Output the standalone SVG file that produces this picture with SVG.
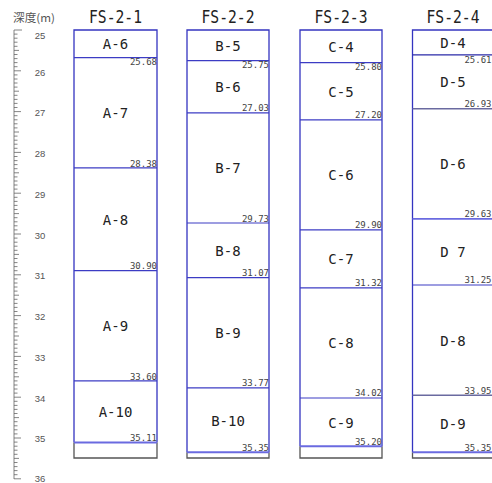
<svg xmlns="http://www.w3.org/2000/svg" width="492" height="483" viewBox="0 0 492 483">
<style>
.title{font-family:"DejaVu Sans Mono","Liberation Mono",monospace;font-size:17px;fill:#222;text-anchor:middle}
.lbl{font-family:"DejaVu Sans Mono","Liberation Mono",monospace;font-size:14px;fill:#222;text-anchor:middle}
.dep{font-family:"DejaVu Sans Mono","Liberation Mono",monospace;font-size:9px;fill:#444;text-anchor:end}
.rl{font-family:"Liberation Sans",Arial,sans-serif;font-size:9.5px;fill:#555;text-anchor:middle}
.hd{font-family:"Noto Sans CJK JP","Noto Sans CJK SC",sans-serif;font-size:11px;fill:#555}
.side{stroke:#3434c0;stroke-width:1.3;fill:none}
.bnd{stroke:#3c3cc4;stroke-width:1.2;fill:none}
.last{stroke:#6a6ae0;stroke-width:2;fill:none}
.base{stroke:#555;stroke-width:1.3;fill:none}
.tick{stroke:#666;stroke-width:0.8}
</style>
<rect width="492" height="483" fill="#fff"/>

<g id="ruler">
<text class="hd" x="13" y="22" textLength="42" lengthAdjust="spacingAndGlyphs">深度(m)</text>
<line x1="14" y1="30" x2="14" y2="479" class="tick"/>
<g id="ticks" class="tick">
<path d="M14 30h8M14 34.1h3.5M14 38.2h3.5M14 42.2h3.5M14 46.3h3.5M14 50.4h5M14 54.5h3.5M14 58.6h3.5M14 62.6h3.5M14 66.7h3.5M14 70.8h7M14 74.9h3.5M14 79h3.5M14 83h3.5M14 87.1h3.5M14 91.2h5M14 95.3h3.5M14 99.4h3.5M14 103.4h3.5M14 107.5h3.5M14 111.6h7M14 115.7h3.5M14 119.8h3.5M14 123.8h3.5M14 127.9h3.5M14 132h5M14 136.1h3.5M14 140.2h3.5M14 144.2h3.5M14 148.3h3.5M14 152.4h7M14 156.5h3.5M14 160.6h3.5M14 164.6h3.5M14 168.7h3.5M14 172.8h5M14 176.9h3.5M14 181h3.5M14 185h3.5M14 189.1h3.5M14 193.2h7M14 197.3h3.5M14 201.4h3.5M14 205.4h3.5M14 209.5h3.5M14 213.6h5M14 217.7h3.5M14 221.8h3.5M14 225.8h3.5M14 229.9h3.5M14 234h7M14 238.1h3.5M14 242.2h3.5M14 246.2h3.5M14 250.3h3.5M14 254.4h5M14 258.5h3.5M14 262.6h3.5M14 266.6h3.5M14 270.7h3.5M14 274.8h7M14 278.9h3.5M14 283h3.5M14 287h3.5M14 291.1h3.5M14 295.2h5M14 299.3h3.5M14 303.4h3.5M14 307.4h3.5M14 311.5h3.5M14 315.6h7M14 319.7h3.5M14 323.8h3.5M14 327.8h3.5M14 331.9h3.5M14 336h5M14 340.1h3.5M14 344.2h3.5M14 348.2h3.5M14 352.3h3.5M14 356.4h7M14 360.5h3.5M14 364.6h3.5M14 368.6h3.5M14 372.7h3.5M14 376.8h5M14 380.9h3.5M14 385h3.5M14 389h3.5M14 393.1h3.5M14 397.2h7M14 401.3h3.5M14 405.4h3.5M14 409.4h3.5M14 413.5h3.5M14 417.6h5M14 421.7h3.5M14 425.8h3.5M14 429.8h3.5M14 433.9h3.5M14 438h7M14 442.1h3.5M14 446.2h3.5M14 450.2h3.5M14 454.3h3.5M14 458.4h5M14 462.5h3.5M14 466.6h3.5M14 470.6h3.5M14 474.7h3.5M14 478.8h7"/>
</g>
<text class="rl" x="40" y="39">25</text>
<text class="rl" x="40" y="75.5">26</text>
<text class="rl" x="40" y="116">27</text>
<text class="rl" x="40" y="157">28</text>
<text class="rl" x="40" y="198">29</text>
<text class="rl" x="40" y="238.5">30</text>
<text class="rl" x="40" y="279">31</text>
<text class="rl" x="40" y="320">32</text>
<text class="rl" x="40" y="361">33</text>
<text class="rl" x="40" y="401.5">34</text>
<text class="rl" x="40" y="442">35</text>
<text class="rl" x="40" y="482">36</text>
</g>

<g id="FS-2-1">
<text class="title" x="115.5" y="23" textLength="53" lengthAdjust="spacingAndGlyphs">FS-2-1</text>
<path class="side" d="M74 442.5V30H157V442.5"/>
<path class="base" d="M74 442.5V458H157V442.5"/>
<g id="A-6"><text class="lbl" x="115.5" y="49">A-6</text><line class="bnd" x1="74" y1="57.7" x2="157" y2="57.7"/><text class="dep" x="157" y="65">25.68</text></g>
<g id="A-7"><text class="lbl" x="115.5" y="118">A-7</text><line class="bnd" x1="74" y1="167.9" x2="157" y2="167.9"/><text class="dep" x="157" y="166.5">28.38</text></g>
<g id="A-8"><text class="lbl" x="115.5" y="224.5">A-8</text><line class="bnd" x1="74" y1="270.7" x2="157" y2="270.7"/><text class="dep" x="157" y="269">30.90</text></g>
<g id="A-9"><text class="lbl" x="115.5" y="331">A-9</text><line class="bnd" x1="74" y1="380.9" x2="157" y2="380.9"/><text class="dep" x="157" y="379.5">33.60</text></g>
<g id="A-10"><text class="lbl" x="115.5" y="417">A-10</text><line class="last" x1="74" y1="442.5" x2="157" y2="442.5"/><text class="dep" x="157" y="440.5">35.11</text></g>
</g>

<g id="FS-2-2">
<text class="title" x="228" y="23" textLength="53" lengthAdjust="spacingAndGlyphs">FS-2-2</text>
<path class="side" d="M187 452.3V30H269V452.3"/>
<path class="base" d="M187 452.3V458H269V452.3"/>
<g id="B-5"><text class="lbl" x="228" y="50.5">B-5</text><line class="bnd" x1="187" y1="60.6" x2="269" y2="60.6"/><text class="dep" x="269" y="68">25.75</text></g>
<g id="B-6"><text class="lbl" x="228" y="92">B-6</text><line class="bnd" x1="187" y1="112.8" x2="269" y2="112.8"/><text class="dep" x="269" y="111">27.03</text></g>
<g id="B-7"><text class="lbl" x="228" y="173">B-7</text><line class="bnd" x1="187" y1="223" x2="269" y2="223"/><text class="dep" x="269" y="221.5">29.73</text></g>
<g id="B-8"><text class="lbl" x="228" y="255.5">B-8</text><line class="bnd" x1="187" y1="277.7" x2="269" y2="277.7"/><text class="dep" x="269" y="276">31.07</text></g>
<g id="B-9"><text class="lbl" x="228" y="338">B-9</text><line class="bnd" x1="187" y1="387.8" x2="269" y2="387.8"/><text class="dep" x="269" y="386.3">33.77</text></g>
<g id="B-10"><text class="lbl" x="228" y="425.5">B-10</text><line class="last" x1="187" y1="452.3" x2="269" y2="452.3"/><text class="dep" x="269" y="450.5">35.35</text></g>
</g>

<g id="FS-2-3">
<text class="title" x="341" y="23" textLength="53" lengthAdjust="spacingAndGlyphs">FS-2-3</text>
<path class="side" d="M300 446.2V30H382V446.2"/>
<path class="base" d="M300 446.2V458H382V446.2"/>
<g id="C-4"><text class="lbl" x="341" y="51.5">C-4</text><line class="bnd" x1="300" y1="62.6" x2="382" y2="62.6"/><text class="dep" x="382" y="70">25.80</text></g>
<g id="C-5"><text class="lbl" x="341" y="96.5">C-5</text><line class="bnd" x1="300" y1="119.8" x2="382" y2="119.8"/><text class="dep" x="382" y="118">27.20</text></g>
<g id="C-6"><text class="lbl" x="341" y="180">C-6</text><line class="bnd" x1="300" y1="229.9" x2="382" y2="229.9"/><text class="dep" x="382" y="228.3">29.90</text></g>
<g id="C-7"><text class="lbl" x="341" y="264">C-7</text><line class="bnd" x1="300" y1="287.9" x2="382" y2="287.9"/><text class="dep" x="382" y="286.3">31.32</text></g>
<g id="C-8"><text class="lbl" x="341" y="348">C-8</text><line class="bnd" x1="300" y1="398" x2="382" y2="398"/><text class="dep" x="382" y="396.4">34.02</text></g>
<g id="C-9"><text class="lbl" x="341" y="427.5">C-9</text><line class="last" x1="300" y1="446.2" x2="382" y2="446.2"/><text class="dep" x="382" y="444.5">35.20</text></g>
</g>

<g id="FS-2-4">
<text class="title" x="453" y="23" textLength="53" lengthAdjust="spacingAndGlyphs">FS-2-4</text>
<path class="side" d="M412.5 452.3V30H494V452.3"/>
<path class="base" d="M412.5 452.3V458H494V452.3"/>
<g id="D-4"><text class="lbl" x="453" y="47.5">D-4</text><line class="bnd" x1="412.5" y1="54.9" x2="494" y2="54.9" style="stroke:#2a2aa8"/><text class="dep" x="491.5" y="62.5">25.61</text></g>
<g id="D-5"><text class="lbl" x="453" y="87">D-5</text><line class="bnd" x1="412.5" y1="108.7" x2="494" y2="108.7" style="stroke:#6a6aa0;stroke-width:1.6"/><text class="dep" x="491.5" y="107">26.93</text></g>
<g id="D-6"><text class="lbl" x="453" y="169">D-6</text><line class="bnd" x1="412.5" y1="218.9" x2="494" y2="218.9" style="stroke:#6a6ae0;stroke-width:1.8"/><text class="dep" x="491.5" y="217.3">29.63</text></g>
<g id="D-7"><text class="lbl" x="453" y="257">D 7</text><line class="bnd" x1="412.5" y1="285" x2="494" y2="285"/><text class="dep" x="491.5" y="283.4">31.25</text></g>
<g id="D-8"><text class="lbl" x="453" y="345.5">D-8</text><line class="bnd" x1="412.5" y1="395.2" x2="494" y2="395.2" style="stroke:#6a6aa0;stroke-width:1.6"/><text class="dep" x="491.5" y="393.6">33.95</text></g>
<g id="D-9"><text class="lbl" x="453" y="429">D-9</text><line class="last" x1="412.5" y1="452.3" x2="494" y2="452.3"/><text class="dep" x="491.5" y="450.5">35.35</text></g>
</g>
<g id="connectors"/>
</svg>
